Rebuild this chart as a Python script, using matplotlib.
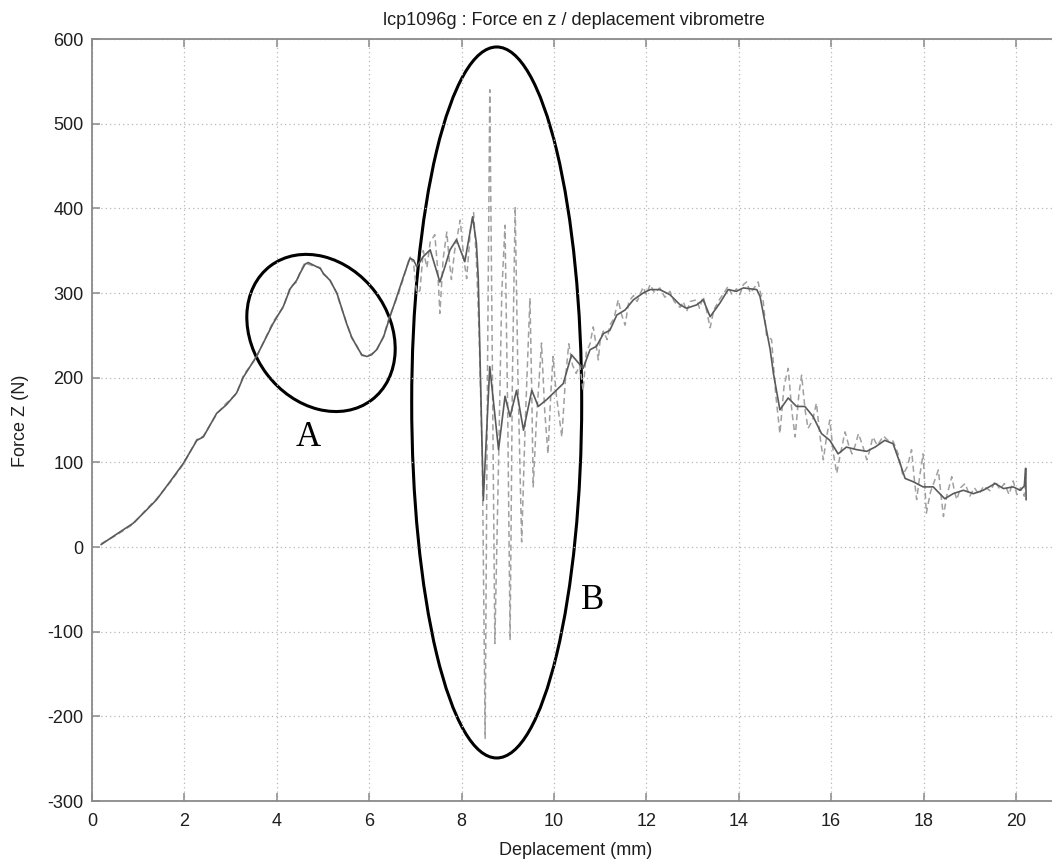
import matplotlib
matplotlib.use("Agg")
import matplotlib.pyplot as plt
import matplotlib.transforms as mtransforms
from matplotlib.patches import Ellipse

# smoothed force signal (solid)
smooth_x = [0.2, 0.5, 0.89, 1.15, 1.40, 1.70, 1.98, 2.27, 2.41, 2.70, 2.91, 3.13, 3.28, 3.56,
            3.92, 4.14, 4.29, 4.43, 4.50, 4.61, 4.68, 4.79, 4.94, 5.01, 5.15, 5.30, 5.37, 5.51,
            5.62, 5.73, 5.84, 5.95, 6.05, 6.16, 6.31, 6.45, 6.60, 6.74, 6.88, 6.96, 7.03,
            7.17, 7.32, 7.53, 7.64, 7.75, 7.89, 8.07, 8.24, 8.32, 8.36, 8.40, 8.47, 8.61, 8.80,
            8.94, 9.05, 9.19, 9.34, 9.52, 9.66, 9.84, 10.2, 10.38, 10.63, 10.78, 10.92, 11.07,
            11.21, 11.36, 11.54, 11.72, 11.93, 12.08, 12.29, 12.51, 12.73, 12.87, 13.09, 13.23,
            13.38, 13.59, 13.77, 13.95, 14.10, 14.39, 14.46, 14.53, 14.68, 14.75, 14.89, 15.07,
            15.25, 15.43, 15.61, 15.79, 15.97, 16.15, 16.33, 16.55, 16.77, 16.95, 17.16, 17.34,
            17.49, 17.60, 17.78, 17.99, 18.21, 18.35, 18.46, 18.64, 18.86, 19.08, 19.29, 19.55,
            19.73, 19.94, 20.09, 20.18, 20.21, 20.22]
smooth_y = [3, 14, 28, 42, 56, 78, 99, 126, 130, 158, 168, 182, 201, 225,
            264, 284, 305, 315, 323, 334, 336, 333, 329, 323, 315, 300, 288, 264,
            248, 237, 227, 225, 227, 233, 248, 272, 296, 319, 341, 339, 331,
            343, 351, 313, 331, 351, 363, 337, 390, 359, 319, 221, 55, 213, 115,
            178, 154, 185, 138, 185, 166, 174, 193, 227, 211, 233, 237, 252,
            256, 274, 280, 292, 300, 304, 304, 298, 286, 282, 286, 292,
            272, 288, 304, 302, 306, 304, 296, 276, 233, 205, 162, 176,
            166, 166, 154, 134, 126, 110, 118, 115, 113, 118, 126, 122,
            99, 81, 77, 71, 71, 63, 57, 63, 67, 63, 67, 75,
            69, 71, 67, 72, 93, 56]

# raw vibrometer signal (dashed)
raw_x = [0.2, 0.5, 0.89, 1.15, 1.40, 1.70, 1.98, 2.27, 2.41, 2.70, 2.91, 3.13, 3.28, 3.56,
         3.92, 4.14, 4.29, 4.43, 4.50, 4.61, 4.68, 4.79, 4.94, 5.01, 5.15, 5.30, 5.37, 5.51,
         5.62, 5.73, 5.84, 5.95, 6.05, 6.16, 6.31, 6.45, 6.60, 6.74, 6.88, 6.96, 7.03,
         7.10, 7.17, 7.25, 7.32, 7.42, 7.48, 7.53, 7.60, 7.68, 7.73, 7.78, 7.85, 7.97, 8.05,
         8.11, 8.20, 8.26, 8.32, 8.38, 8.45, 8.51, 8.56, 8.61, 8.66, 8.72, 8.80, 8.87, 8.94,
         9.00, 9.05, 9.10, 9.16, 9.22, 9.30, 9.38, 9.48, 9.52, 9.55, 9.62, 9.73, 9.80, 9.87,
         9.93, 9.98, 10.05, 10.17, 10.25, 10.32, 10.40, 10.48, 10.56, 10.63, 10.70, 10.78,
         10.85, 10.96, 11.00, 11.07, 11.15, 11.21, 11.30, 11.39, 11.46, 11.54, 11.62, 11.72,
         11.80, 11.93, 12.00, 12.08, 12.18, 12.29, 12.40, 12.51, 12.60, 12.73, 12.80, 12.87,
         12.95, 13.09, 13.15, 13.23, 13.30, 13.38, 13.46, 13.59, 13.68, 13.77, 13.85, 13.95,
         14.02, 14.10, 14.17, 14.25, 14.32, 14.42, 14.47, 14.53, 14.60, 14.71, 14.80, 14.89,
         14.98, 15.07, 15.15, 15.22, 15.30, 15.36, 15.44, 15.50, 15.60, 15.68, 15.76, 15.83,
         15.90, 15.97, 16.05, 16.12, 16.20, 16.30, 16.38, 16.45, 16.52, 16.59, 16.68, 16.77,
         16.84, 16.90, 17.00, 17.13, 17.25, 17.34, 17.45, 17.55, 17.65, 17.74, 17.80, 17.85,
         17.92, 17.99, 18.03, 18.06, 18.15, 18.25, 18.32, 18.38, 18.43, 18.50, 18.61, 18.67,
         18.72, 18.80, 18.90, 19.00, 19.10, 19.20, 19.30, 19.45, 19.55, 19.65, 19.75, 19.85,
         19.94, 20.02, 20.10, 20.18, 20.22]
raw_y = [4, 13, 27, 43, 57, 77, 98, 127, 131, 157, 170, 181, 203, 224,
         266, 283, 307, 313, 324, 336, 334, 332, 330, 322, 316, 299, 287, 265,
         247, 238, 226, 226, 228, 232, 249, 274, 294, 317, 343, 335, 300,
         303, 350, 330, 360, 369, 330, 276, 340, 372, 340, 316, 350, 386, 340,
         317, 380, 395, 340, 250, 100, -226, 200, 540, 250, -114, 100, 300, 380,
         150, -110, 200, 402, 200, 6, 150, 294, 180, 71, 150, 241, 160, 110,
         180, 225, 180, 130, 200, 240, 215, 205, 215, 185, 230, 240,
         260, 221, 245, 255, 245, 262, 270, 292, 275, 262, 290, 297,
         290, 307, 298, 310, 300, 306, 295, 302, 290, 283, 290, 278,
         290, 292, 282, 296, 280, 259, 280, 293, 300, 308, 298, 305,
         298, 310, 313, 300, 305, 313, 300, 290, 250, 245, 180, 134,
         190, 211, 160, 130, 180, 203, 160, 140, 150, 170, 130, 103,
         130, 150, 110, 87, 110, 136, 120, 110, 120, 134, 120, 103,
         115, 130, 120, 131, 125, 125, 110, 85, 95, 115, 80, 56,
         85, 110, 70, 40, 65, 80, 91, 60, 36, 60, 83, 65,
         56, 70, 75, 60, 70, 62, 72, 66, 78, 68, 75, 62,
         78, 62, 70, 60, 88]

x_ticks = [0, 2, 4, 6, 8, 10, 12, 14, 16, 18, 20]
y_ticks = [-300, -200, -100, 0, 100, 200, 300, 400, 500, 600]

plt.rcParams['font.family'] = ['Liberation Sans', 'DejaVu Sans']
plt.rcParams['axes.unicode_minus'] = False

fig = plt.figure(figsize=(10.52, 8.61), dpi=100)
ax = fig.add_axes([92 / 1052, 60 / 861, 960 / 1052, 762 / 861])

ax.plot(raw_x, raw_y, color='#a0a0a0', lw=1.1, linestyle=(0, (4, 2.5)))
ax.plot(smooth_x, smooth_y, color='#5a5a5a', lw=1.2)

ax.set_xlim(0, 20.78)
ax.set_ylim(-300, 600)
ax.set_xticks(x_ticks)
ax.set_yticks(y_ticks)

ax.grid(True, color='#b8b8b8', linestyle=(0, (1, 2.5)), lw=0.9)
for side in ['left', 'bottom', 'top']:
    ax.spines[side].set_color('#8a8a8a')
    ax.spines[side].set_linewidth(1.3)
ax.spines['right'].set_visible(False)
ax.tick_params(direction='in', length=6, width=1.1, color='#8a8a8a', top=True, right=False,
               labelsize=13, labelcolor='#1e1e1e')
ax.tick_params(axis='x', pad=9)
ax.tick_params(axis='y', pad=6)

ax.set_title('lcp1096g : Force en z / deplacement vibrometre', fontsize=13, x=0.502, pad=10,
             color='#1e1e1e')
ax.set_xlabel('Deplacement (mm)', fontsize=13, color='#1e1e1e')
ax.set_ylabel('Force Z (N)', fontsize=13, color='#1e1e1e')
ax.xaxis.set_label_coords(0.504, -0.054)
ax.yaxis.set_label_coords(-0.066, 0.499)

# annotation ellipses, centred in data coords, sized in inches
trans_a = fig.dpi_scale_trans + mtransforms.ScaledTranslation(4.957, 252.8, ax.transData)
ax.add_patch(Ellipse((0, 0), 1.36, 1.68, angle=37, transform=trans_a, fill=False,
                     ec='black', lw=2.2, clip_on=False))
trans_b = fig.dpi_scale_trans + mtransforms.ScaledTranslation(8.76, 170.7, ax.transData)
ax.add_patch(Ellipse((0, 0), 1.70, 7.11, transform=trans_b, fill=False,
                     ec='black', lw=2.2, clip_on=False))

ax.text(4.675, 128.8, 'A', fontsize=25, family='Liberation Serif', ha='center', va='center')
ax.text(10.84, -62.6, 'B', fontsize=25, family='Liberation Serif', ha='center', va='center')

fig.savefig('out.png', dpi=100)
